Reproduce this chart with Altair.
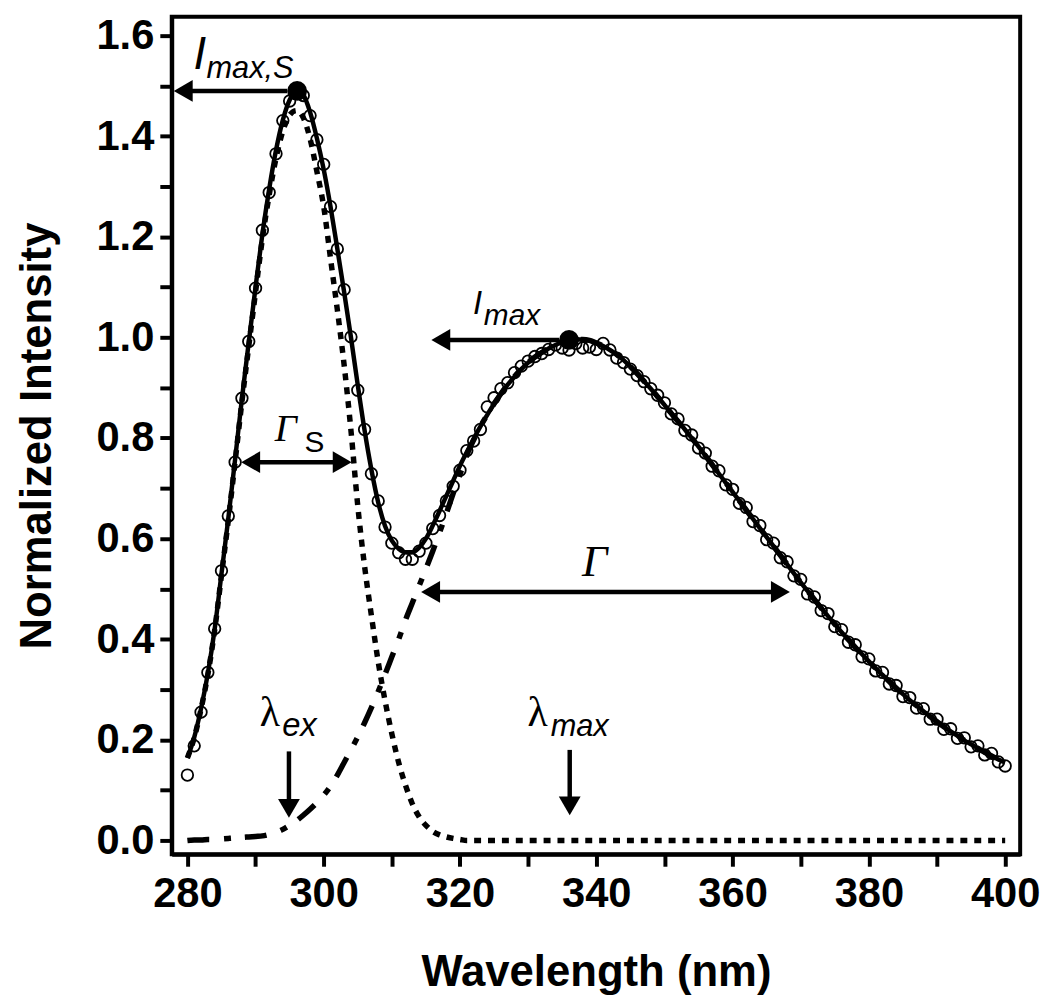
import altair as alt
import pandas as pd

# ---------------- data ----------------
wavelength = list(range(280, 401))

measured = [
    0.130, 0.188, 0.255, 0.334, 0.421, 0.536, 0.645, 0.752, 0.879, 0.992,
    1.098, 1.213, 1.288, 1.365, 1.431, 1.470, 1.485, 1.481, 1.441, 1.393,
    1.344, 1.260, 1.176, 1.095, 1.001, 0.895, 0.817, 0.729, 0.675, 0.623,
    0.591, 0.572, 0.559, 0.559, 0.575, 0.591, 0.620, 0.646, 0.675, 0.704,
    0.736, 0.775, 0.794, 0.817, 0.862, 0.880, 0.898, 0.910, 0.930, 0.943,
    0.953, 0.962, 0.968, 0.976, 0.985, 0.979, 0.975, 0.988, 0.979, 0.981,
    0.976, 0.988, 0.975, 0.959, 0.950, 0.937, 0.924, 0.912, 0.898, 0.885,
    0.870, 0.848, 0.838, 0.815, 0.806, 0.780, 0.770, 0.744, 0.735, 0.707,
    0.698, 0.670, 0.662, 0.634, 0.626, 0.598, 0.591, 0.562, 0.554, 0.526,
    0.519, 0.490, 0.484, 0.457, 0.451, 0.425, 0.419, 0.394, 0.389, 0.365,
    0.361, 0.337, 0.334, 0.311, 0.308, 0.286, 0.284, 0.263, 0.262, 0.241,
    0.241, 0.221, 0.222, 0.203, 0.204, 0.186, 0.188, 0.170, 0.173, 0.156,
    0.148,
]

fit_total = [
    0.164, 0.205, 0.262, 0.332, 0.420, 0.530, 0.640, 0.758, 0.878, 0.990,
    1.100, 1.205, 1.295, 1.372, 1.432, 1.472, 1.490, 1.482, 1.448, 1.396,
    1.334, 1.260, 1.176, 1.090, 1.000, 0.905, 0.815, 0.737, 0.672, 0.625,
    0.596, 0.580, 0.573, 0.573, 0.582, 0.600, 0.626, 0.655, 0.685, 0.715,
    0.745, 0.772, 0.798, 0.823, 0.846, 0.868, 0.888, 0.906, 0.922, 0.937,
    0.950, 0.961, 0.970, 0.978, 0.985, 0.990, 0.994, 0.996, 0.996, 0.994,
    0.989, 0.983, 0.975, 0.966, 0.955, 0.942, 0.928, 0.913, 0.898, 0.882,
    0.866, 0.849, 0.833, 0.817, 0.800, 0.783, 0.765, 0.747, 0.729, 0.711,
    0.693, 0.675, 0.657, 0.639, 0.621, 0.603, 0.585, 0.567, 0.549, 0.531,
    0.513, 0.496, 0.479, 0.462, 0.446, 0.430, 0.414, 0.399, 0.384, 0.370,
    0.356, 0.342, 0.329, 0.316, 0.303, 0.291, 0.279, 0.268, 0.257, 0.246,
    0.236, 0.226, 0.217, 0.208, 0.199, 0.191, 0.183, 0.175, 0.168, 0.161,
    0.155,
]

scatter_fit = [
    0.164, 0.204, 0.261, 0.330, 0.418, 0.527, 0.636, 0.753, 0.872, 0.982,
    1.090, 1.196, 1.283, 1.356, 1.410, 1.442, 1.451, 1.437, 1.395, 1.330,
    1.260, 1.157, 1.055, 0.945, 0.815, 0.665, 0.545, 0.447, 0.355, 0.278,
    0.212, 0.155, 0.110, 0.073, 0.047, 0.030, 0.018, 0.011, 0.007, 0.004,
    0.002, 0.000, 0.000, 0.000, 0.000, 0.000, 0.000, 0.000, 0.000, 0.000,
    0.000, 0.000, 0.000, 0.000, 0.000, 0.000, 0.000, 0.000, 0.000, 0.000,
    0.000, 0.000, 0.000, 0.000, 0.000, 0.000, 0.000, 0.000, 0.000, 0.000,
    0.000, 0.000, 0.000, 0.000, 0.000, 0.000, 0.000, 0.000, 0.000, 0.000,
    0.000, 0.000, 0.000, 0.000, 0.000, 0.000, 0.000, 0.000, 0.000, 0.000,
    0.000, 0.000, 0.000, 0.000, 0.000, 0.000, 0.000, 0.000, 0.000, 0.000,
    0.000, 0.000, 0.000, 0.000, 0.000, 0.000, 0.000, 0.000, 0.000, 0.000,
    0.000, 0.000, 0.000, 0.000, 0.000, 0.000, 0.000, 0.000, 0.000, 0.000,
    0.000,
]

emission_fit = [
    0.000, 0.001, 0.001, 0.002, 0.002, 0.003, 0.004, 0.005, 0.006, 0.007,
    0.008, 0.009, 0.012, 0.016, 0.022, 0.030, 0.039, 0.050, 0.062, 0.075,
    0.090, 0.108, 0.130, 0.155, 0.180, 0.206, 0.234, 0.264, 0.296, 0.330,
    0.365, 0.400, 0.438, 0.472, 0.506, 0.540, 0.575, 0.612, 0.650, 0.690,
    0.728, 0.766, 0.796, 0.823, 0.846, 0.868, 0.888, 0.906, 0.922, 0.937,
    0.950, 0.961, 0.970, 0.978, 0.985, 0.990, 0.994, 0.996, 0.996, 0.994,
    0.989, 0.983, 0.975, 0.966, 0.955, 0.942, 0.928, 0.913, 0.898, 0.882,
    0.866, 0.849, 0.833, 0.817, 0.800, 0.783, 0.765, 0.747, 0.729, 0.711,
    0.693, 0.675, 0.657, 0.639, 0.621, 0.603, 0.585, 0.567, 0.549, 0.531,
    0.513, 0.496, 0.479, 0.462, 0.446, 0.430, 0.414, 0.399, 0.384, 0.370,
    0.356, 0.342, 0.329, 0.316, 0.303, 0.291, 0.279, 0.268, 0.257, 0.246,
    0.236, 0.226, 0.217, 0.208, 0.199, 0.191, 0.183, 0.175, 0.168, 0.161,
    0.155,
]

x_ticks = [280, 290, 300, 310, 320, 330, 340, 350, 360, 370, 380, 390, 400]
y_ticks = [0.0, 0.1, 0.2, 0.3, 0.4, 0.5, 0.6, 0.7, 0.8, 0.9, 1.0,
           1.1, 1.2, 1.3, 1.4, 1.5, 1.6]

# annotations (data coordinates)
peak_wl = [296.1, 336.0]
peak_val = [1.490, 0.995]

harrow_from = [278.0, 315.8, 287.9, 314.3]
harrow_to = [296.1, 336.0, 304.1, 368.4]
harrow_y = [1.490, 0.995, 0.752, 0.494]
head_right_x = [304.1, 368.4]
head_right_y = [0.752, 0.494]

varrow_x = [294.9, 336.1]
varrow_top = [0.177, 0.180]
varrow_tip = [0.045, 0.050]

big_text = ["I", "I"]
big_x = [280.9, 321.9]
big_y = [1.534, 1.047]
big_size = [46, 33]

sub_text = ["max,S", "max", "ex", "max"]
sub_x = [282.8, 323.5, 293.9, 333.3]
sub_y = [1.515, 1.024, 0.2075, 0.2075]

gamma_text = ["\u0393", "\u0393"]
gamma_x = [292.8, 337.9]
gamma_y = [0.795, 0.526]
gamma_size = [39, 45]

gsub_text = ["S"]
gsub_x = [297.2]
gsub_y = [0.772]

lam_text = ["\u03bb", "\u03bb"]
lam_x = [290.6, 329.9]
lam_y = [0.227, 0.227]

# ---------------- chart ----------------
X0, X1 = 277.7, 402.2
Y0, Y1 = -0.0276, 1.6374
xs = alt.Scale(domain=[X0, X1], nice=False, zero=False)
ys = alt.Scale(domain=[Y0, Y1], nice=False, zero=False)

x_axis = alt.Axis(
    values=x_ticks, format="d",
    labelExpr="datum.value % 20 == 0 ? datum.label : ''",
    title="Wavelength (nm)", titlePadding=36, labelPadding=8,
)
y_axis = alt.Axis(
    values=y_ticks, format=".1f",
    labelExpr="round(datum.value * 10) % 2 == 0 ? format(datum.value, '.1f') : ''",
    title="Normalized Intensity", titlePadding=37, labelPadding=6,
)


def X(field):
    return alt.X(field, scale=xs, axis=x_axis, title="Wavelength (nm)")


def Y(field):
    return alt.Y(field, scale=ys, axis=y_axis, title="Normalized Intensity")


df = pd.DataFrame({
    "wl": wavelength,
    "measured": measured,
    "total": fit_total,
    "scatter": scatter_fit,
    "emission": emission_fit,
})

circles = alt.Chart(df).mark_point(
    shape="circle", filled=False, size=135, stroke="black", strokeWidth=1.8,
    opacity=1,
).encode(x=X("wl:Q"), y=Y("measured:Q"))

dotted = alt.Chart(df).mark_line(
    color="black", strokeWidth=5.5, strokeDash=[7, 7], interpolate="monotone",
).encode(x=X("wl:Q"), y=Y("scatter:Q"))

dashdot = alt.Chart(df).mark_line(
    color="black", strokeWidth=5.5, strokeDash=[22, 15, 7, 14], interpolate="monotone",
).encode(x=X("wl:Q"), y=Y("emission:Q"))

solid = alt.Chart(df).mark_line(
    color="black", strokeWidth=4.5, interpolate="monotone",
).encode(x=X("wl:Q"), y=Y("total:Q"))

peaks = alt.Chart(pd.DataFrame({"x": peak_wl, "y": peak_val})).mark_point(
    shape="circle", filled=True, size=400, color="black", opacity=1,
).encode(x=X("x:Q"), y=Y("y:Q"))

hdf = pd.DataFrame({"x": harrow_from, "x2": harrow_to, "y": harrow_y})
hlines = alt.Chart(hdf).mark_rule(
    color="black", strokeWidth=4.5, xOffset=10, x2Offset=-10,
).encode(x=X("x:Q"), x2="x2:Q", y=Y("y:Q"))

heads_left = alt.Chart(hdf).mark_point(
    shape="triangle-left", filled=True, size=484, color="black", opacity=1, xOffset=9.5,
).encode(x=X("x:Q"), y=Y("y:Q"))

heads_right = alt.Chart(pd.DataFrame({"x": head_right_x, "y": head_right_y})).mark_point(
    shape="triangle-right", filled=True, size=484, color="black", opacity=1, xOffset=-9.5,
).encode(x=X("x:Q"), y=Y("y:Q"))

vdf = pd.DataFrame({"x": varrow_x, "y": varrow_top, "y2": varrow_tip})
vlines = alt.Chart(vdf).mark_rule(
    color="black", strokeWidth=4.5, y2Offset=-10,
).encode(x=X("x:Q"), y=Y("y:Q"), y2="y2:Q")

heads_down = alt.Chart(vdf).mark_point(
    shape="triangle-down", filled=True, size=484, color="black", opacity=1, yOffset=-9.5,
).encode(x=X("x:Q"), y=Y("y2:Q"))


def text_layer(texts, xv, yv, sizes, font, style):
    d = pd.DataFrame({"t": texts, "x": xv, "y": yv, "s": sizes})
    return alt.Chart(d).mark_text(
        align="left", baseline="alphabetic", font=font, fontStyle=style,
        fontWeight="normal", color="black",
    ).encode(
        x=X("x:Q"), y=Y("y:Q"),
        text="t:N",
        size=alt.Size("s:Q", scale=None, legend=None),
    )


t_big = text_layer(big_text, big_x, big_y, big_size, "Liberation Sans", "italic")
t_sub = text_layer(sub_text, sub_x, sub_y, [31, 30, 33, 31], "Liberation Sans", "italic")
t_gamma = text_layer(gamma_text, gamma_x, gamma_y, gamma_size, "Liberation Serif", "italic")
t_gsub = text_layer(gsub_text, gsub_x, gsub_y, [30], "Liberation Sans", "normal")
t_lam = text_layer(lam_text, lam_x, lam_y, [42, 42], "Liberation Serif", "normal")

chart = alt.layer(
    circles, dotted, dashdot, solid, hlines, heads_left, heads_right,
    vlines, heads_down, peaks, t_big, t_sub, t_gamma, t_gsub, t_lam,
).properties(
    width=855, height=844,
    autosize=alt.AutoSizeParams(type="none"),
    padding={"left": 165, "top": 5, "right": 22, "bottom": 150},
).configure_view(
    stroke="black", strokeWidth=4,
).configure_axis(
    grid=False,
    domainColor="black", domainWidth=4,
    tickColor="black", tickWidth=4, tickSize=12,
    labelFont="Liberation Sans", labelFontWeight="bold", labelFontSize=42,
    labelColor="black",
    titleFont="Liberation Sans", titleFontWeight="bold", titleFontSize=44,
    titleColor="black",
)

chart.save("out.html", embed_options={"renderer": "svg", "actions": False})
